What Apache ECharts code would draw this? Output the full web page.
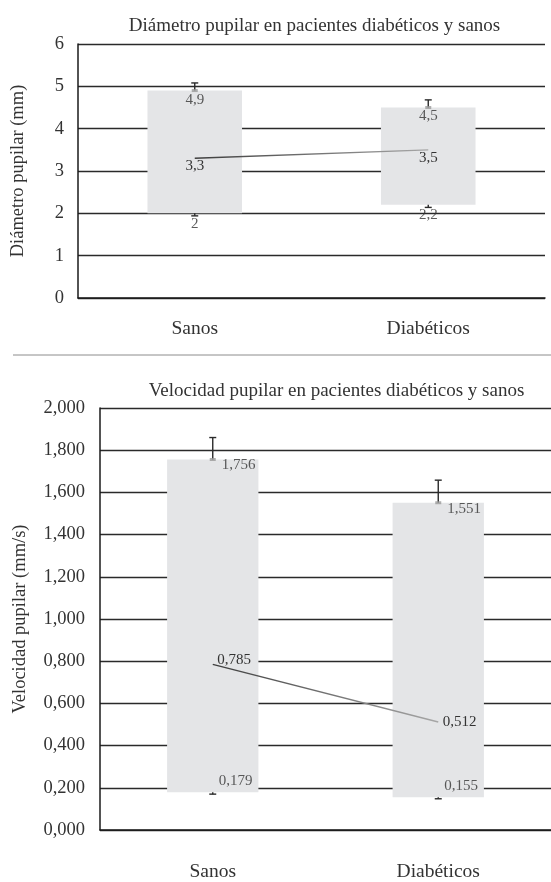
<!DOCTYPE html>
<html><head><meta charset="utf-8">
<script src="https://cdn.jsdelivr.net/npm/echarts@6/dist/echarts.min.js"></script>
<style>html,body{margin:0;padding:0;background:#fff}#c{width:551px;height:882px}</style>
</head><body><div id="c"></div>
<script>
// ---- Data ----
const categories = ['Sanos', 'Diabéticos'];
// Diámetro pupilar (mm)
const diamLow = [2, 2.2];
const diamMean = [3.3, 3.5];
const diamHigh = [4.9, 4.5];
const diamErrTop = [5.08, 4.68];
const diamErrBottom = [1.94, 2.14];
const diamAxis = { min: 0, max: 6, interval: 1 };
// Velocidad pupilar (mm/s)
const velLow = [0.179, 0.155];
const velMean = [0.785, 0.512];
const velHigh = [1.756, 1.551];
const velErrTop = [1.86, 1.658];
const velErrBottom = [0.17, 0.148];
const velAxis = { min: 0, max: 2, interval: 0.2 };

const titles = ['Diámetro pupilar en pacientes diabéticos y sanos', 'Velocidad pupilar en pacientes diabéticos y sanos'];
const yNames = ['Diámetro pupilar (mm)', 'Velocidad pupilar (mm/s)'];

// ---- Style ----
const FONT = 'Liberation Serif';
const TXT = '#333333';
const BAR = '#e4e5e7';
const G1 = { left: 78, top: 44, width: 467, height: 254 };
const G2 = { left: 100, top: 408, width: 462, height: 426 };

const fmtFixed = (d) => (v) => Number(v).toFixed(d).replace('.', ',');
const fmtPlain = (v) => String(v).replace('.', ',');

function floatBar(params, api) {
  const x = api.value(0), lo = api.value(1), hi = api.value(2);
  const pHi = api.coord([x, hi]), pLo = api.coord([x, lo]);
  const w = api.size([1, 0])[0] * 0.405;
  return { type: 'rect', shape: { x: pHi[0] - w / 2, y: pHi[1], width: w, height: pLo[1] - pHi[1] },
           style: { fill: BAR } };
}
function errBar(params, api) {
  const x = api.value(0);
  const hi = api.coord([x, api.value(1)]), top = api.coord([x, api.value(2)]);
  const lo = api.coord([x, api.value(3)]), bot = api.coord([x, api.value(4)]);
  const c = 3.5, st = { stroke: '#2a2a2a', lineWidth: 1.4 };
  return { type: 'group', children: [
    { type: 'line', shape: { x1: hi[0], y1: hi[1], x2: top[0], y2: top[1] }, style: st },
    { type: 'line', shape: { x1: top[0] - c, y1: top[1], x2: top[0] + c, y2: top[1] }, style: st },
    { type: 'line', shape: { x1: lo[0], y1: lo[1], x2: bot[0], y2: bot[1] }, style: st },
    { type: 'line', shape: { x1: bot[0] - c, y1: bot[1], x2: bot[0] + c, y2: bot[1] }, style: st }
  ] };
}

function grad(a, b) {
  return new echarts.graphic.LinearGradient(0, 0, 1, 0, [{ offset: 0, color: a }, { offset: 1, color: b }]);
}

function chartSeries(idx, low, mean, high, errTop, errBot, f, labelMode) {
  const barData = categories.map((c, i) => [i, low[i], high[i]]);
  const errData = categories.map((c, i) => [i, high[i], errTop[i], low[i], errBot[i]]);
  const lblBase = { show: true, color: TXT, fontFamily: FONT, fontSize: 15 };
  let highLbl, lowLbl, meanLbl, meanOffsets;
  if (labelMode === 'below') {
    highLbl = Object.assign({}, lblBase, { position: 'bottom', distance: 0 });
    lowLbl = Object.assign({}, lblBase, { position: 'bottom', distance: 3 });
    meanLbl = Object.assign({}, lblBase, { position: 'bottom', distance: 0 });
    meanOffsets = [[0, 0], [0, 0]];
  } else {
    highLbl = Object.assign({}, lblBase, { position: 'right', distance: 6, offset: [0, 6] });
    lowLbl = Object.assign({}, lblBase, { position: 'right', distance: 6, offset: [0, -11] });
    meanLbl = Object.assign({}, lblBase, { position: 'right', distance: 4 });
    meanOffsets = [[0, -4], [0, 0]];
  }
  return [
    { type: 'custom', xAxisIndex: idx, yAxisIndex: idx, renderItem: floatBar, data: barData,
      encode: { x: 0, y: [1, 2] }, z: 2, silent: true },
    { type: 'custom', xAxisIndex: idx, yAxisIndex: idx, renderItem: errBar, data: errData,
      encode: { x: 0, y: [1, 2, 3, 4] }, z: 3, silent: true },
    { type: 'scatter', xAxisIndex: idx, yAxisIndex: idx, symbol: 'rect', symbolSize: [6, 3],
      itemStyle: { color: '#9a9a9a' }, data: high.map((v, i) => [i, v]), z: 4,
      label: Object.assign({ formatter: (p) => f(p.value[1]) }, highLbl) },
    { type: 'scatter', xAxisIndex: idx, yAxisIndex: idx, symbolSize: 0,
      data: low.map((v, i) => [i, v]), z: 4,
      label: Object.assign({ formatter: (p) => f(p.value[1]) }, lowLbl) },
    { type: 'line', xAxisIndex: idx, yAxisIndex: idx, symbol: 'circle', symbolSize: 1, showSymbol: true, z: 5,
      itemStyle: { color: 'rgba(0,0,0,0)' },
      lineStyle: { width: 1.4, color: grad('#3c3c3c', '#a8a8a8') },
      data: mean.map((v, i) => ({ value: v, label: { offset: meanOffsets[i] } })),
      label: Object.assign({ formatter: (p) => f(p.value) }, meanLbl) }
  ];
}

const axisLabelStyle = { color: TXT, fontFamily: FONT, fontSize: 18.5 };

const option = {
  animation: false,
  backgroundColor: '#fff',
  textStyle: { fontFamily: FONT },
  title: [
    { text: titles[0], left: G1.left + G1.width / 2 - 2, top: 12, textAlign: 'center',
      textStyle: { fontFamily: FONT, fontSize: 19, fontWeight: 'normal', color: TXT } },
    { text: titles[1], left: G2.left + (551 - G2.left) / 2 + 6, top: 377, textAlign: 'center',
      textStyle: { fontFamily: FONT, fontSize: 19, fontWeight: 'normal', color: TXT } }
  ],
  grid: [G1, G2],
  xAxis: [0, 1].map((i) => ({
    type: 'category', gridIndex: i, data: categories,
    axisLine: { show: true, lineStyle: { color: '#1a1a1a', width: 1.5 } },
    axisTick: { show: false },
    axisLabel: Object.assign({}, axisLabelStyle, { fontSize: 19.5, margin: i === 0 ? 21 : 32 }),
    splitLine: { show: false }
  })),
  yAxis: [
    { type: 'value', gridIndex: 0, min: diamAxis.min, max: diamAxis.max, interval: diamAxis.interval,
      name: yNames[0], nameLocation: 'middle', nameRotate: 90, nameGap: 50,
      nameTextStyle: { fontFamily: FONT, fontSize: 18.5, color: TXT },
      axisLine: { show: true, lineStyle: { color: '#1a1a1a', width: 1.5 } },
      axisTick: { show: false },
      axisLabel: Object.assign({}, axisLabelStyle, { margin: 14, formatter: fmtFixed(0) }),
      splitLine: { show: true, lineStyle: { color: '#2a2a2a', width: 1.3 } } },
    { type: 'value', gridIndex: 1, min: velAxis.min, max: velAxis.max, interval: velAxis.interval,
      name: yNames[1], nameLocation: 'middle', nameRotate: 90, nameGap: 70,
      nameTextStyle: { fontFamily: FONT, fontSize: 18.5, color: TXT },
      axisLine: { show: true, lineStyle: { color: '#1a1a1a', width: 1.5 } },
      axisTick: { show: false },
      axisLabel: Object.assign({}, axisLabelStyle, { margin: 15, formatter: fmtFixed(3) }),
      splitLine: { show: true, lineStyle: { color: '#2a2a2a', width: 1.3 } } }
  ],
  graphic: [
    { type: 'line', shape: { x1: 13, y1: 355, x2: 551, y2: 355 }, style: { stroke: '#8c8c8c', lineWidth: 1 } }
  ],
  series: [].concat(
    chartSeries(0, diamLow, diamMean, diamHigh, diamErrTop, diamErrBottom, fmtPlain, 'below'),
    chartSeries(1, velLow, velMean, velHigh, velErrTop, velErrBottom, fmtFixed(3), 'right')
  )
};

const chart = echarts.init(document.getElementById('c'), null, { renderer: 'canvas' });
chart.setOption(option);
</script>
</body></html>
